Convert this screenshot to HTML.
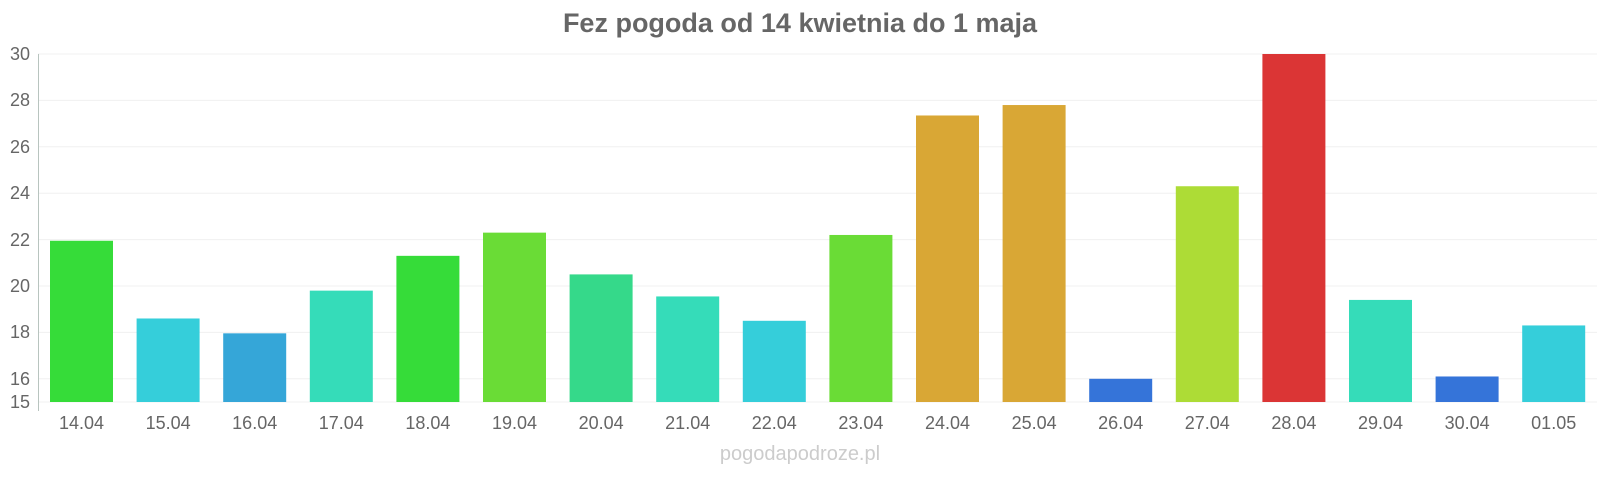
<!DOCTYPE html><html><head><meta charset="utf-8"><style>body{margin:0;background:#fff}</style></head><body>
<svg width="1600" height="480" xmlns="http://www.w3.org/2000/svg" font-family="Liberation Sans, sans-serif">
<text x="800" y="32" text-anchor="middle" font-size="27" font-weight="bold" fill="#666">Fez pogoda od 14 kwietnia do 1 maja</text>
<g stroke="#f0f0f0" stroke-width="1">
<line x1="38" x2="1597" y1="54" y2="54"/><line x1="38" x2="1597" y1="100.4" y2="100.4"/><line x1="38" x2="1597" y1="146.8" y2="146.8"/><line x1="38" x2="1597" y1="193.2" y2="193.2"/><line x1="38" x2="1597" y1="239.6" y2="239.6"/><line x1="38" x2="1597" y1="286" y2="286"/><line x1="38" x2="1597" y1="332.4" y2="332.4"/><line x1="38" x2="1597" y1="378.8" y2="378.8"/><line x1="38" x2="1597" y1="402" y2="402"/>
</g>
<line x1="38.5" x2="38.5" y1="54" y2="411" stroke="#b8c4bf"/>
<g font-size="18" fill="#666" text-anchor="end">
<text x="30" y="60">30</text><text x="30" y="106">28</text><text x="30" y="153">26</text><text x="30" y="199">24</text><text x="30" y="246">22</text><text x="30" y="292">20</text><text x="30" y="338">18</text><text x="30" y="385">16</text><text x="30" y="408">15</text>
</g>
<g id="bars"></g>
<g id="labels" font-size="18" fill="#666" text-anchor="middle"></g>
<text x="800" y="460" text-anchor="middle" font-size="20" fill="#ccc">pogodapodroze.pl</text>
<script>
var d=[["14.04",21.95,"#36dc39"],["15.04",18.6,"#35ceda"],["16.04",17.96,"#35a6d8"],["17.04",19.8,"#35dcb9"],["18.04",21.3,"#36dc39"],["19.04",22.3,"#6adc36"],["20.04",20.5,"#35d98a"],["21.04",19.55,"#35dcb9"],["22.04",18.5,"#35ceda"],["23.04",22.2,"#6adc36"],["24.04",27.35,"#d9a735"],["25.04",27.8,"#d9a735"],["26.04",16.0,"#3574d9"],["27.04",24.3,"#addc36"],["28.04",30,"#db3535"],["29.04",19.4,"#35dcb9"],["30.04",16.1,"#3574d9"],["01.05",18.3,"#35ceda"]];
var b=document.getElementById("bars"),l=document.getElementById("labels"),ns="http://www.w3.org/2000/svg";
d.forEach(function(e,i){var x=50+i*86.6,y=402-(e[1]-15)*23.2;
var r=document.createElementNS(ns,"rect");r.setAttribute("x",x);r.setAttribute("y",y);r.setAttribute("width",63);r.setAttribute("height",402-y);r.setAttribute("fill",e[2]);b.appendChild(r);
var t=document.createElementNS(ns,"text");t.setAttribute("x",x+31.5);t.setAttribute("y",429);t.textContent=e[0];l.appendChild(t);});
</script>
</svg></body></html>
